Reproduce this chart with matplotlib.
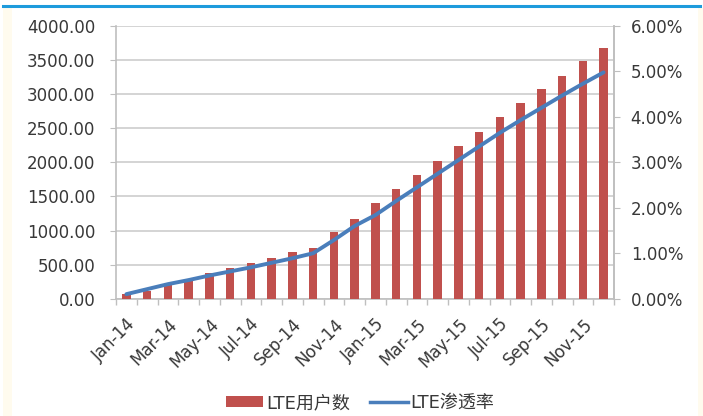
import matplotlib
matplotlib.use("Agg")
import matplotlib.pyplot as plt
from matplotlib.lines import Line2D
from matplotlib.patches import Patch, Rectangle
from matplotlib.ticker import FixedLocator, FuncFormatter

plt.rcParams['font.family'] = ['DejaVu Sans', 'Noto Sans CJK SC']

months = ["Jan-14", "Feb-14", "Mar-14", "Apr-14", "May-14", "Jun-14", "Jul-14", "Aug-14",
          "Sep-14", "Oct-14", "Nov-14", "Dec-14", "Jan-15", "Feb-15", "Mar-15", "Apr-15",
          "May-15", "Jun-15", "Jul-15", "Aug-15", "Sep-15", "Oct-15", "Nov-15", "Dec-15"]
users = [70, 120, 230, 290, 372, 445, 528, 597, 680, 748, 974, 1173,
         1404, 1609, 1819, 2024, 2244, 2450, 2660, 2866, 3076, 3266, 3482, 3681]
penetration = [0.10, 0.21, 0.32, 0.41, 0.51, 0.60, 0.69, 0.79, 0.89, 1.00, 1.29, 1.60,
               1.84, 2.15, 2.45, 2.75, 3.05, 3.35, 3.65, 3.93, 4.20, 4.47, 4.73, 4.98]
left_ticks = [0, 500, 1000, 1500, 2000, 2500, 3000, 3500, 4000]
right_ticks = [0, 1, 2, 3, 4, 5, 6]
label_bar = "LTE用户数"
label_line = "LTE渗透率"

bar_color = "#C0504D"
line_color = "#4A7EBB"
text_color = "#383838"
axis_color = "#BFBFBF"
grid_color = "#D4D4D4"

fig = plt.figure(figsize=(7.03, 4.16), dpi=100)
fig.patch.set_facecolor("white")
W, H = 703, 416

# decorative page elements
fig.add_artist(Rectangle((3 / W, 0), 9 / W, 1 - 8 / H, transform=fig.transFigure,
                         facecolor="#FFFBEE", edgecolor="none", zorder=0))
fig.add_artist(Rectangle((698 / W, 0), 5 / W, 1 - 8 / H, transform=fig.transFigure,
                         facecolor="#FFFBEE", edgecolor="none", zorder=0))
fig.add_artist(Line2D([3 / W, 700 / W], [1 - 6 / H, 1 - 6 / H], transform=fig.transFigure,
                      color="#1E9BDC", linewidth=2.2))

ax = fig.add_axes([116 / W, 1 - 298.7 / H, (614 - 116) / W, (298.7 - 26) / H])
x = list(range(len(months)))
ax.bar(x, users, width=0.42, color=bar_color, zorder=3)
ax.set_xlim(-0.5, len(months) - 0.5)
ax.set_ylim(0, 4000)
ax.yaxis.set_major_locator(FixedLocator(left_ticks))
ax.yaxis.set_major_formatter(FuncFormatter(lambda v, p: f"{v:.2f}"))
ax.grid(axis="y", color=grid_color, linewidth=1.4, zorder=0)
ax.set_axisbelow(True)

ax.set_xticks(x[::2])
ax.set_xticklabels(months[::2], rotation=45, ha="right", rotation_mode="anchor")
ax.set_xticks([i - 0.5 for i in range(len(months) + 1)], minor=True)
ax.tick_params(axis="x", which="major", length=0, pad=12, labelsize=12, labelcolor=text_color)
ax.tick_params(axis="x", which="minor", length=4, color=axis_color, width=1)
ax.tick_params(axis="y", length=4, color=axis_color, labelsize=12, labelcolor=text_color, pad=11)

ax.spines["top"].set_visible(False)
for s in ["left", "bottom", "right"]:
    ax.spines[s].set_color(axis_color)
    ax.spines[s].set_linewidth(1.2)

ax2 = ax.twinx()
ax2.plot(x, penetration, color=line_color, linewidth=2.8, zorder=4, solid_capstyle="round")
ax2.set_ylim(0, 6)
ax2.yaxis.set_major_locator(FixedLocator(right_ticks))
ax2.yaxis.set_major_formatter(FuncFormatter(lambda v, p: f"{v:.2f}%"))
ax2.tick_params(axis="y", length=4, color=axis_color, labelsize=12, labelcolor=text_color, pad=8)
for s in ["top", "left", "bottom"]:
    ax2.spines[s].set_visible(False)
ax2.spines["right"].set_color(axis_color)
ax2.spines["right"].set_linewidth(1.2)

handles = [Patch(facecolor=bar_color, edgecolor="none", label=label_bar),
           Line2D([0], [0], color=line_color, linewidth=2.5, label=label_line)]
leg = fig.legend(handles=handles, loc="center", bbox_to_anchor=(0.512, 1 - 403 / H), ncol=2,
                 frameon=False, fontsize=13, handlelength=2.1, handleheight=0.55,
                 handletextpad=0.15, columnspacing=1.1)
for t in leg.get_texts():
    t.set_color(text_color)

fig.savefig("out.png", dpi=100, facecolor="white")
